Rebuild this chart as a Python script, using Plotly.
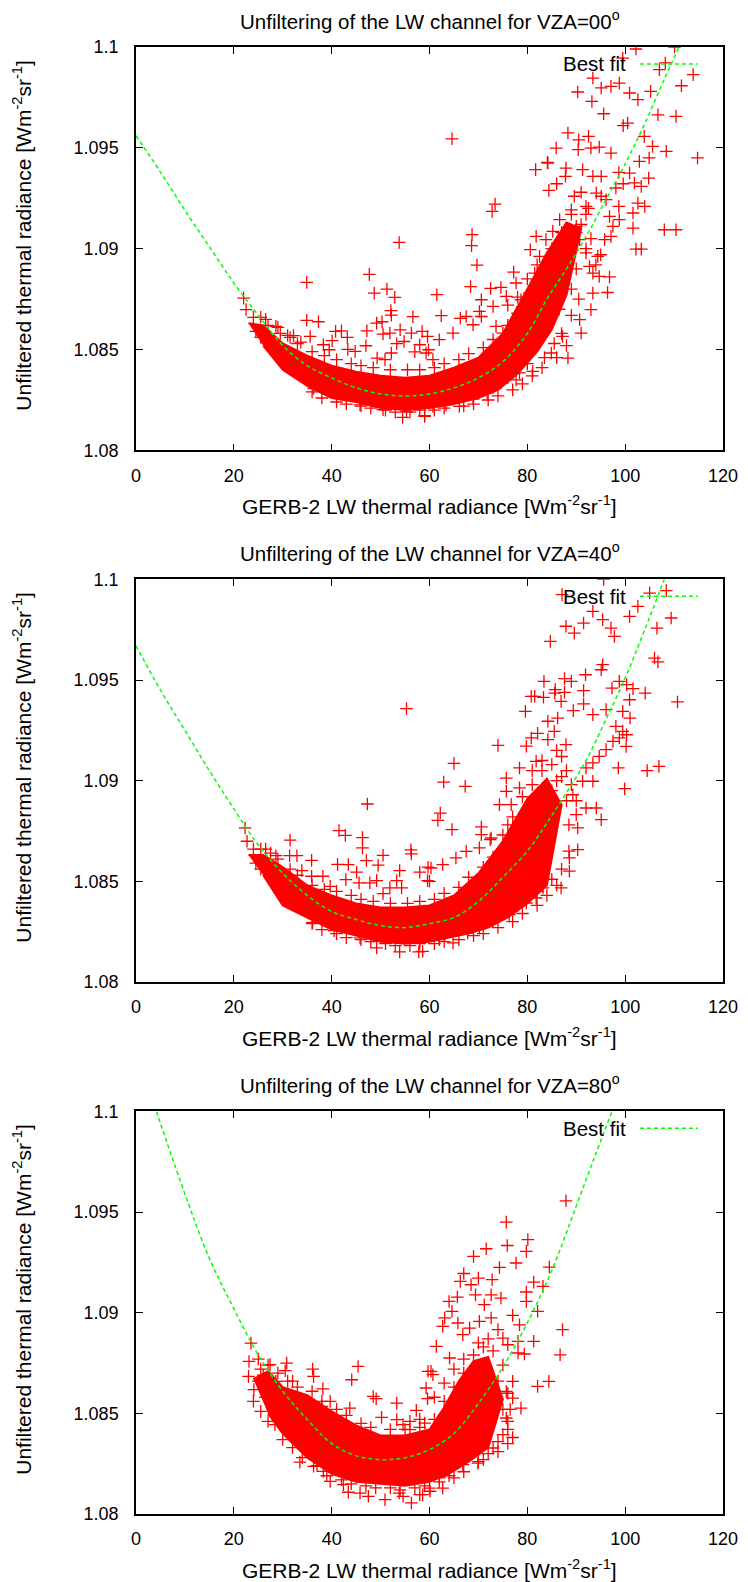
import plotly.graph_objects as go

# ---------------- data ----------------
titles = ["Unfiltering of the LW channel for VZA=00<sup>o</sup>",
          "Unfiltering of the LW channel for VZA=40<sup>o</sup>",
          "Unfiltering of the LW channel for VZA=80<sup>o</sup>"]
x_label = "GERB-2 LW thermal radiance [Wm<sup>-2</sup>sr<sup>-1</sup>]"
y_label = "Unfiltered thermal radiance [Wm<sup>-2</sup>sr<sup>-1</sup>]"
legend_label = "Best fit"
x_ticks = [0, 20, 40, 60, 80, 100, 120]
y_ticks = [1.08, 1.085, 1.09, 1.095, 1.1]
y_ticktext = ["1.08", "1.085", "1.09", "1.095", "1.1"]

# best-fit curves
fit1_x = [0, 5, 10, 15, 20, 25, 30, 35, 40, 45, 50, 55, 60, 65, 70, 75, 80, 84, 88, 92, 96, 100, 104, 108, 111]
fit1_y = [1.0956, 1.0938, 1.0919, 1.0901, 1.0883, 1.0867, 1.0852, 1.0842, 1.0836, 1.0831, 1.0828, 1.0827, 1.0828,
          1.0831, 1.0836, 1.0844, 1.0858, 1.0875, 1.0890, 1.0906, 1.0924, 1.0942, 1.0962, 1.0984, 1.1]
fit2_x = [0, 5, 10, 15, 20, 25, 30, 35, 40, 45, 50, 55, 60, 65, 70, 75, 80, 84, 88, 92, 96, 100, 104, 108]
fit2_y = [1.0967, 1.0945, 1.0925, 1.0905, 1.0886, 1.0868, 1.0854, 1.0843, 1.0835, 1.0831, 1.0828, 1.0827, 1.0829,
          1.0832, 1.0840, 1.0852, 1.0865, 1.0879, 1.0894, 1.0910, 1.0930, 1.0951, 1.0975, 1.1]
fit3_x = [4.2, 5, 10, 15, 20, 25, 30, 35, 40, 45, 50, 55, 60, 65, 70, 75, 80, 85, 90, 94, 97.3]
fit3_y = [1.1, 1.0994, 1.0959, 1.0927, 1.0902, 1.0879, 1.0861, 1.0847, 1.0835, 1.0829, 1.0827, 1.0828, 1.0832,
          1.0840, 1.0855, 1.0873, 1.0895, 1.0921, 1.0953, 1.0979, 1.1]

# outline of the saturated (solid red) core of each point cloud
band1_x = [23, 26, 30, 35, 40, 45, 50, 55, 60, 65, 70, 75, 80, 84, 88, 91,
           88, 85, 82, 78, 74, 70, 65, 60, 55, 50, 45, 40, 35, 30, 26]
band1_y = [1.0863, 1.0862, 1.0853, 1.0847, 1.0842, 1.0839, 1.0837, 1.0836, 1.0837, 1.0841, 1.0846, 1.0858, 1.0880,
           1.0898, 1.0913, 1.0910,
           1.0877, 1.0860, 1.0849, 1.0838, 1.0830, 1.0826, 1.0823, 1.0821, 1.0820, 1.0821, 1.0824, 1.0826,
           1.0832, 1.0840, 1.0852]
band2_x = [23, 26, 30, 35, 40, 45, 50, 55, 60, 65, 70, 75, 80, 84, 87,
           84, 80, 76, 72, 68, 64, 60, 55, 50, 45, 40, 35, 30, 26]
band2_y = [1.0863, 1.0863, 1.0857, 1.0848, 1.0843, 1.0839, 1.0837, 1.0837, 1.0838, 1.0843, 1.0854, 1.0870, 1.0891,
           1.0901, 1.0888,
           1.0848, 1.0839, 1.0832, 1.0827, 1.0824, 1.0822, 1.0820, 1.0819, 1.0820, 1.0823, 1.0826, 1.0832,
           1.0838, 1.0853]
band3_x = [24, 27, 30, 35, 40, 45, 50, 55, 60, 63, 66, 69, 72, 75,
           72, 68, 64, 60, 55, 50, 45, 40, 35, 30, 27]
band3_y = [1.0867, 1.0871, 1.0863, 1.0859, 1.0851, 1.0844, 1.0839, 1.0839, 1.0842, 1.0853, 1.0866, 1.0876, 1.0878,
           1.0857,
           1.0833, 1.0826, 1.0820, 1.0816, 1.0814, 1.0815, 1.0816, 1.0820, 1.0828, 1.0840, 1.0850]

# crosses along the ragged rim of each dense core
rim1 = [(36, 1.0829), (38, 1.0826), (41, 1.0824), (43, 1.0823), (46, 1.0822), (48, 1.0821), (51, 1.0820),
        (53, 1.0819), (56, 1.0819), (58, 1.0820), (61, 1.0820), (63, 1.0821), (67, 1.0822), (69, 1.0823),
        (72, 1.0825), (74, 1.0827), (77, 1.0830), (79, 1.0833), (81, 1.0837), (83, 1.0841), (86, 1.0846),
        (88, 1.0852), (26.5, 1.0865), (29, 1.0861), (31.5, 1.0856), (33, 1.0853), (36, 1.0849), (38.5, 1.0847),
        (41, 1.0845), (44, 1.0843), (46, 1.0842), (48.5, 1.0841), (52, 1.0840), (55.5, 1.0840), (58, 1.0840),
        (61, 1.0841), (63, 1.0843), (66, 1.0845), (68, 1.0848), (71, 1.0851), (73, 1.0855), (76, 1.0862),
        (78, 1.0868), (80, 1.0885), (82, 1.0892), (85, 1.0900), (87, 1.0908), (89, 1.0917), (91, 1.0928),
        (92.5, 1.0920), (92, 1.0900), (90, 1.0890), (89, 1.0880), (86.5, 1.0870),
        (76, 1.0872), (78, 1.0876), (79, 1.0871), (80, 1.0866), (82, 1.0870), (83, 1.0880), (85, 1.0885),
        (86, 1.0890), (84, 1.0893), (88, 1.0895), (89, 1.0903), (90, 1.0908), (91, 1.0912), (92, 1.0917),
        (93, 1.0905), (94, 1.0892), (95, 1.0897), (90.5, 1.0875), (89, 1.0867), (87, 1.0858), (85.5, 1.0853),
        (83.5, 1.0846), (80, 1.0843), (76, 1.0836), (24, 1.0866), (24.5, 1.0859), (25.5, 1.0856)]
rim2 = [(36, 1.0829), (38, 1.0826), (41, 1.0824), (43, 1.0822), (46, 1.0821), (48, 1.0820), (51, 1.0819),
        (53, 1.0818), (56, 1.0818), (58, 1.0819), (61, 1.0819), (63, 1.0820), (66, 1.0821), (69, 1.0823),
        (71, 1.0824), (74, 1.0827), (77, 1.0830), (79, 1.0834), (82, 1.0838), (84, 1.0843), (86, 1.0848),
        (26.5, 1.0866), (29, 1.0861), (31.5, 1.0856), (33, 1.0853), (36, 1.0848), (38.5, 1.0846), (41, 1.0845),
        (44, 1.0843), (46, 1.0841), (48.5, 1.0840), (52, 1.0839), (55.5, 1.0839), (58, 1.0840), (61, 1.0841),
        (63, 1.0844), (66, 1.0847), (68, 1.0852), (71, 1.0857), (73, 1.0862), (75, 1.0873), (77, 1.0882),
        (79, 1.0892), (81, 1.0898), (83, 1.0905), (85, 1.0908), (87, 1.0902), (88, 1.0890), (88.5, 1.0878),
        (76, 1.0878), (78, 1.0875), (80, 1.0870), (82, 1.0878), (84, 1.0885), (85, 1.0895), (86, 1.0900),
        (87, 1.0912), (88, 1.0905), (89, 1.0898), (90, 1.0890), (88.5, 1.0865), (87, 1.0856), (85, 1.0851),
        (82, 1.0845), (78, 1.0838), (74, 1.0833), (86, 1.0915), (83, 1.0910), (81, 1.0905),
        (24, 1.0866), (24.5, 1.0859), (25.5, 1.0856)]
rim3 = [(30, 1.0837), (32, 1.0833), (34, 1.0828), (37, 1.0824), (39, 1.0819), (42, 1.0817), (44, 1.0815),
        (47, 1.0814), (49, 1.0813), (52, 1.0813), (54, 1.0812), (57, 1.0813), (59, 1.0814), (62, 1.0816),
        (65, 1.0818), (67, 1.0821), (70, 1.0826), (72, 1.0830), (74, 1.0836), (76, 1.0842), (25, 1.0877),
        (27, 1.0874), (29, 1.0870), (31, 1.0866), (33, 1.0863), (36, 1.0861), (38, 1.0856), (41, 1.0852),
        (43, 1.0849), (46, 1.0845), (48, 1.0843), (52, 1.0842), (55, 1.0842), (58, 1.0843), (61, 1.0847),
        (63, 1.0856), (65, 1.0863), (67, 1.0870), (69, 1.0879), (71, 1.0883), (73, 1.0881), (75, 1.0874),
        (76, 1.0860), (76.5, 1.0852),
        (70, 1.0873), (72, 1.0870), (74, 1.0866), (73, 1.0859), (75, 1.0852), (76, 1.0846), (77, 1.0838),
        (76, 1.0835), (74, 1.0831), (71, 1.0827), (64, 1.0819), (62, 1.0818), (66, 1.0863), (68, 1.0869),
        (70, 1.0885), (72, 1.0887), (67, 1.0877), (65, 1.0872), (63, 1.0865), (61, 1.0858), (58, 1.0847),
        (56, 1.0846), (25, 1.0866), (26, 1.0869), (28, 1.0861), (24, 1.0856), (25.5, 1.0851), (27, 1.0846)]

# individual points (x, y) outside / at the edge of the dense core
pts1 = [(53.8, 1.09031), (34.9, 1.08833), (47.7, 1.08873), (48.7, 1.0878), (51.3, 1.0880), (52.9, 1.08759),
        (52.1, 1.08693), (52.2, 1.08671), (22.0, 1.08755), (22.5, 1.08698), (34.9, 1.08645), (37.3, 1.08638),
        (56.6, 1.08663), (49.2, 1.08631), (50.3, 1.08638), (47.2, 1.08593), (54.0, 1.08598), (56.3, 1.08582),
        (58.5, 1.0859), (40.8, 1.0859), (42.0, 1.08593), (43.2, 1.0856), (32.2, 1.08569), (35.6, 1.08565),
        (33.7, 1.08537), (28.6, 1.08615), (38.3, 1.08524), (40.1, 1.08544), (47.0, 1.08519), (50.5, 1.08577),
        (51.9, 1.08582), (53.3, 1.08529), (54.8, 1.0854), (57.0, 1.08489), (58.0, 1.08524), (59.6, 1.08565),
        (59.8, 1.08499), (52.2, 1.08483), (49.3, 1.08458), (50.9, 1.0845), (43.3, 1.08501), (44.8, 1.08491),
        (39.5, 1.08499), (36.3, 1.08307), (54.5, 1.08164), (59.0, 1.08172), (41.0, 1.08268), (45.8, 1.08226),
        (50.5, 1.08202), (55.3, 1.08193), (25.5, 1.0866), (27.0, 1.0862), (29.5, 1.0858), (31.0, 1.0857),
        (64.6, 1.09545), (73.4, 1.09221), (72.8, 1.09185), (68.7, 1.0907), (68.6, 1.09015), (69.7, 1.08919),
        (68.4, 1.08812), (61.5, 1.08772), (72.5, 1.08803), (74.6, 1.08808), (62.4, 1.08668), (66.3, 1.08655),
        (70.6, 1.08747), (70.2, 1.08689), (77.2, 1.08884), (81.7, 1.09392), (84.1, 1.09428), (85.9, 1.09499),
        (88.3, 1.09574), (90.3, 1.09777), (93.4, 1.09846), (95.1, 1.09797), (97.1, 1.09805), (98.8, 1.09821),
        (100.9, 1.09772), (102.6, 1.09739), (105.2, 1.0978), (106.7, 1.09664), (110.4, 1.09656), (108.4, 1.09483),
        (114.8, 1.0945), (113.9, 1.09863), (111.5, 1.09808), (107.0, 1.09888), (108.2, 1.09921), (102.2, 1.0999),
        (99.5, 1.09945), (110.1, 1.1), (93.2, 1.0973), (95.6, 1.09669), (100.5, 1.09623), (99.6, 1.0961),
        (103.9, 1.09557), (105.6, 1.09507), (104.9, 1.0945), (102.9, 1.09433), (100.9, 1.09375), (98.7, 1.09378),
        (97.1, 1.09474), (94.7, 1.09504), (93.0, 1.09499), (90.4, 1.09491), (90.5, 1.0954), (92.5, 1.09557),
        (87.9, 1.094), (86.0, 1.09322), (84.4, 1.09289), (84.2, 1.09425), (87.8, 1.09359), (91.3, 1.09392),
        (93.4, 1.09359), (95.1, 1.09359), (98.1, 1.09301), (99.6, 1.09322), (101.9, 1.09326), (103.3, 1.09309),
        (104.8, 1.0935), (102.6, 1.09226), (101.6, 1.09177), (104.0, 1.0921), (98.7, 1.0921), (98.8, 1.09144),
        (97.5, 1.09111), (101.6, 1.09102), (102.2, 1.08998), (108.0, 1.09094), (110.4, 1.09094), (103.3, 1.08998),
        (81.8, 1.09061), (83.8, 1.09045), (85.2, 1.09086), (80.6, 1.08995), (82.5, 1.08962), (86.6, 1.09144),
        (89.0, 1.09193), (89.6, 1.0926), (92.0, 1.0921), (94.1, 1.09276), (95.1, 1.0926), (96.1, 1.09243),
        (96.8, 1.0916), (97.1, 1.09061), (95.8, 1.09045), (94.4, 1.08962), (93.4, 1.08879), (94.7, 1.08863),
        (96.8, 1.0886), (96.4, 1.08783), (93.4, 1.0878), (93.0, 1.08698), (90.7, 1.08648), (91.0, 1.08582),
        (88.3, 1.08458), (87.2, 1.08565), (84.9, 1.08483), (81.1, 1.08392), (78.4, 1.08384), (77.7, 1.0835),
        (74.6, 1.08334), (71.8, 1.08284), (68.9, 1.08255), (66.1, 1.08218), (63.4, 1.08226), (60.7, 1.08218),
        (59.0, 1.08169), (76.7, 1.08532), (75.0, 1.08582), (73.6, 1.08615), (70.6, 1.08664), (68.9, 1.08623),
        (67.5, 1.08664), (64.8, 1.08582), (62.0, 1.08549), (60.7, 1.0845), (59.3, 1.08483), (78.7, 1.08747),
        (80.4, 1.0878), (81.5, 1.08879), (83.8, 1.08912), (85.9, 1.08979), (87.9, 1.09045), (90.0, 1.09111),
        (90.7, 1.09045), (92.0, 1.08979), (92.7, 1.08912), (77.7, 1.0883), (75.7, 1.08764), (73.0, 1.08714)]

pts2 = [(55.3, 1.09358), (47.3, 1.08884), (41.5, 1.08752), (42.8, 1.08728), (46.3, 1.08717), (46.3, 1.08666),
        (31.5, 1.08704), (22.3, 1.08765), (22.7, 1.08699), (47.1, 1.08603), (50.5, 1.08629), (56.2, 1.08656),
        (56.3, 1.08636), (28.6, 1.08627), (31.4, 1.08627), (32.9, 1.08627), (35.9, 1.08604), (41.2, 1.08584),
        (43.4, 1.08583), (49.5, 1.0858), (53.9, 1.08553), (58.0, 1.08545), (59.7, 1.0857), (45.1, 1.08545),
        (45.6, 1.08492), (33.9, 1.08553), (35.9, 1.08525), (38.2, 1.08525), (42.9, 1.08508), (47.8, 1.08492),
        (49.2, 1.08503), (51.9, 1.08467), (53.3, 1.08503), (54.3, 1.08467), (59.6, 1.08503), (50.5, 1.08439),
        (39.7, 1.08475), (36.1, 1.08296), (40.5, 1.08255), (49.2, 1.08169), (53.9, 1.08149), (57.8, 1.08149),
        (58.0, 1.08202), (45.8, 1.08219), (25.5, 1.0866), (27.5, 1.0864),
        (65.0, 1.09086), (62.9, 1.08993), (67.3, 1.08972), (74.0, 1.09175), (62.2, 1.08839), (61.7, 1.08803),
        (64.6, 1.08757), (70.6, 1.0877), (70.6, 1.08732), (72.4, 1.08707), (75.7, 1.09013), (79.6, 1.09344),
        (83.4, 1.09493), (85.7, 1.09452), (80.8, 1.09419), (87.9, 1.09767), (84.7, 1.09692), (89.6, 1.09733),
        (91.5, 1.09783), (87.1, 1.09924), (95.6, 1.1), (93.4, 1.09841), (95.4, 1.098), (97.8, 1.09717),
        (97.1, 1.09758), (100.9, 1.09816), (102.6, 1.09866), (105.0, 1.09932), (108.4, 1.09944), (109.4, 1.09808),
        (106.5, 1.09758), (106.0, 1.09609), (106.7, 1.0959), (104.1, 1.09435), (110.7, 1.09391), (106.9, 1.09071),
        (104.5, 1.0905), (99.9, 1.0896), (98.6, 1.09063), (100.2, 1.0917), (100.3, 1.09228), (101.0, 1.09311),
        (99.5, 1.09344), (100.9, 1.09402), (101.6, 1.09457), (100.3, 1.09477), (98.8, 1.09493), (97.3, 1.0946),
        (95.1, 1.09551), (95.4, 1.09576), (91.9, 1.09526), (91.5, 1.09447), (89.0, 1.09493), (87.6, 1.09507),
        (87.6, 1.09439), (85.6, 1.09435), (83.3, 1.09414), (81.5, 1.09419), (86.9, 1.09394), (89.4, 1.09348),
        (91.5, 1.09381), (93.4, 1.09328), (96.1, 1.09353), (98.1, 1.0927), (98.8, 1.09212), (99.5, 1.09245),
        (97.5, 1.09195), (96.1, 1.09154), (94.7, 1.09121), (93.4, 1.09088), (92.0, 1.09063), (91.3, 1.08997),
        (93.4, 1.08997), (94.1, 1.08864), (95.1, 1.08806), (92.0, 1.08864), (90.3, 1.08765), (90.3, 1.08657),
        (88.6, 1.08616), (88.6, 1.0855), (86.9, 1.08467), (90.0, 1.08831), (89.3, 1.0893), (87.9, 1.09179),
        (85.5, 1.09245), (84.2, 1.09204), (86.2, 1.09311), (79.8, 1.09171), (82.1, 1.09235), (84.2, 1.09295),
        (80.8, 1.09212), (78.4, 1.09063), (81.8, 1.09096), (75.7, 1.08947), (74.3, 1.08881), (78.4, 1.08964),
        (76.7, 1.08881), (72.6, 1.08715), (70.2, 1.08666), (67.5, 1.08649), (65.4, 1.08616), (62.7, 1.08583),
        (60.3, 1.08566), (60.0, 1.085), (83.2, 1.08467), (81.8, 1.08417), (79.8, 1.08392), (76.3, 1.08334),
        (72.9, 1.08301), (70.2, 1.08268), (67.8, 1.08243), (64.8, 1.08194), (62.0, 1.0821), (58.6, 1.08152)]

pts3 = [(23.5, 1.08849), (23.1, 1.08758), (23.0, 1.08684), (24.1, 1.08618), (27.4, 1.08742), (30.8, 1.0875),
        (30.5, 1.08712), (28.6, 1.08659), (36.1, 1.0872), (36.3, 1.08684), (38.2, 1.08622), (45.4, 1.08733),
        (44.1, 1.08667), (48.5, 1.08584), (49.1, 1.08573), (50.2, 1.0848), (53.3, 1.08551), (57.3, 1.08515),
        (59.7, 1.08709), (59.6, 1.08573), (28.4, 1.08444), (33.5, 1.08258), (36.3, 1.08237), (38.3, 1.08212),
        (43.4, 1.08108), (45.8, 1.08104), (47.5, 1.08088), (50.9, 1.08071), (53.8, 1.08104), (56.3, 1.08055),
        (58.0, 1.08096), (54.6, 1.08088), (38.0, 1.08535), (39.7, 1.0856), (40.3, 1.0846), (43.7, 1.08526),
        (42.4, 1.08146), (39.7, 1.08162), (53.3, 1.08469), (54.6, 1.08444), (56.0, 1.08419), (59.0, 1.08452),
        (60.1, 1.08113), (25.5, 1.0872), (26.5, 1.0858), (32.0, 1.0866),
        (87.9, 1.09556), (75.7, 1.0945), (80.1, 1.09363), (75.9, 1.09334), (79.8, 1.09305), (71.6, 1.09318),
        (69.0, 1.0928), (77.7, 1.09247), (74.3, 1.09225), (72.8, 1.09164), (67.0, 1.09195), (70.0, 1.09172),
        (68.5, 1.09139), (66.3, 1.09156), (84.5, 1.09227), (81.3, 1.09152), (83.2, 1.09131), (79.8, 1.09103),
        (79.8, 1.09056), (82.1, 1.09007), (77.0, 1.08987), (78.4, 1.0894), (74.6, 1.09073), (72.6, 1.09089),
        (71.2, 1.0904), (69.4, 1.09089), (65.7, 1.09078), (64.0, 1.09056), (64.6, 1.09007), (63.1, 1.08974),
        (65.8, 1.08949), (62.7, 1.08932), (66.8, 1.08891), (68.2, 1.08924), (70.2, 1.08957), (72.6, 1.08974),
        (74.0, 1.08916), (75.0, 1.08874), (76.0, 1.08841), (78.1, 1.088), (79.4, 1.08795), (81.3, 1.08858),
        (78.1, 1.08858), (87.2, 1.08916), (86.7, 1.08791), (82.1, 1.08634), (84.4, 1.08659), (77.0, 1.08659),
        (78.7, 1.08526), (77.0, 1.08576), (75.7, 1.08609), (75.7, 1.08477), (75.0, 1.08394), (73.0, 1.08328),
        (69.9, 1.08253), (66.8, 1.08245), (63.1, 1.08212), (62.7, 1.08129), (60.0, 1.08129), (60.3, 1.08709),
        (61.4, 1.08833), (60.7, 1.08692), (59.3, 1.08626), (64.1, 1.08775), (58.6, 1.08096)]

# ---------------- figure ----------------
# the page body has an 8 px default margin, so the figure is 8 px smaller than the window
FONT = "Liberation Sans, Arial, sans-serif"
RED = "#ff0000"
GREEN = "#00ff00"
domains = [[0.725, 1.0], [0.3627, 0.6371], [0.0, 0.2744]]
panels = [(pts1 + rim1, band1_x, band1_y, fit1_x, fit1_y),
          (pts2 + rim2, band2_x, band2_y, fit2_x, fit2_y),
          (pts3 + rim3, band3_x, band3_y, fit3_x, fit3_y)]

fig = go.Figure()
layout = dict(width=740, height=1574, paper_bgcolor="white", plot_bgcolor="white",
              margin=dict(l=128, r=25, t=39, b=68, autoexpand=False), showlegend=False,
              font=dict(family=FONT, size=20, color="black"))
annotations = []
shapes = []
for i, (pts, bx, by, fx, fy) in enumerate(panels):
    sfx = "" if i == 0 else str(i + 1)
    xa, ya = "x" + sfx, "y" + sfx
    fig.add_trace(go.Scatter(x=bx, y=by, mode="lines", fill="toself", fillcolor=RED,
                             line=dict(color=RED, width=2), xaxis=xa, yaxis=ya, hoverinfo="skip"))
    fig.add_trace(go.Scatter(x=[p[0] for p in pts], y=[p[1] for p in pts], mode="markers",
                             marker=dict(symbol="cross-thin", size=9, line=dict(color=RED, width=1.3)),
                             xaxis=xa, yaxis=ya))
    fig.add_trace(go.Scatter(x=fx, y=fy, mode="lines", line=dict(color=GREEN, width=1.5, dash="4px,3px",
                                                                 shape="spline"),
                             xaxis=xa, yaxis=ya))
    axis_common = dict(showgrid=False, zeroline=False, showline=True, linecolor="black", linewidth=1.5,
                       mirror="ticks", ticks="inside", ticklen=7, tickwidth=1, tickcolor="black",
                       automargin=False, tickfont=dict(family=FONT, size=18, color="black"))
    layout["xaxis" + sfx] = dict(axis_common, domain=[0, 1], range=[0, 120], tickvals=x_ticks,
                                 anchor=ya, ticklabelstandoff=8)
    layout["yaxis" + sfx] = dict(axis_common, domain=domains[i], range=[1.08, 1.1], tickvals=y_ticks,
                                 ticktext=y_ticktext, anchor=xa, ticklabelstandoff=12)
    xd, yd = xa + " domain", ya + " domain"
    annotations.append(dict(text=titles[i], xref=xd, yref=yd, x=0.5, y=1, yshift=27, xanchor="center",
                            yanchor="middle", showarrow=False, font=dict(size=20.5)))
    annotations.append(dict(text=x_label, xref=xd, yref=yd, x=0.5, y=0, yshift=-55, xanchor="center",
                            yanchor="middle", showarrow=False, font=dict(size=21)))
    annotations.append(dict(text=y_label, xref="paper", yref=yd, x=(22 - 136) / 587, y=0.5, yshift=13,
                            xanchor="center", yanchor="middle", textangle=-90, showarrow=False,
                            font=dict(size=21)))
    annotations.append(dict(text=legend_label, xref=xd, yref=yd, x=0.838, y=0.958, xanchor="right",
                            yanchor="middle", showarrow=False, font=dict(size=20.5)))
    shapes.append(dict(type="line", xref=xd, yref=yd, x0=0.8586, x1=0.957, y0=0.958, y1=0.958,
                       line=dict(color=GREEN, width=1.5, dash="4px,3px")))

layout["annotations"] = annotations
layout["shapes"] = shapes
fig.update_layout(**layout)
fig.write_html("out.html")
